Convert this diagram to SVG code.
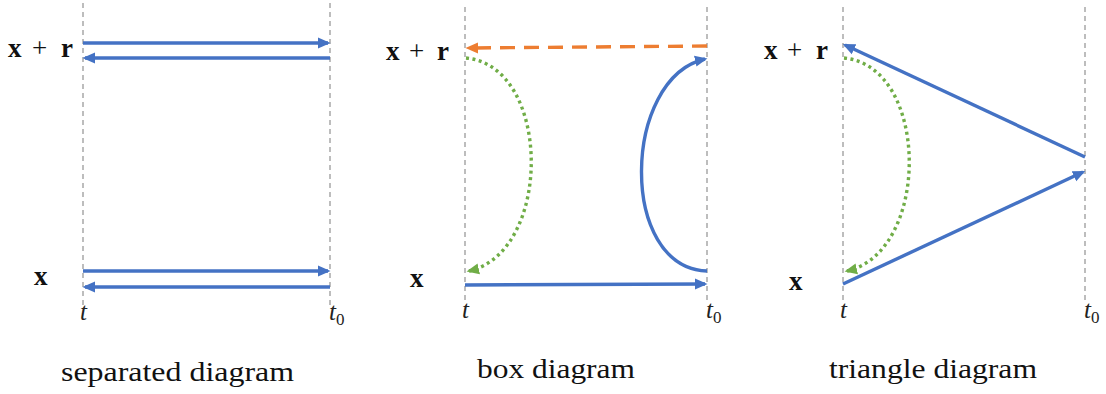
<svg xmlns="http://www.w3.org/2000/svg" width="1106" height="394" viewBox="0 0 1106 394">
<style>
.grid{stroke:#9a9a9a;stroke-width:1.3;stroke-dasharray:5,4;fill:none}
.blue{stroke:#4472C4;stroke-width:3.4;fill:none}
.orange{stroke:#ED7D31;stroke-width:3.4;fill:none;stroke-dasharray:15,9}
.green{stroke:#70AD47;stroke-width:3.4;fill:none;stroke-dasharray:3,3.5}
.lbl{font-family:"Times New Roman","Liberation Serif",Tinos,serif;font-size:27px;fill:#111}
.b{font-weight:bold}
.it{font-family:"Times New Roman","Liberation Serif",Tinos,serif;font-style:italic;font-size:25px;fill:#222}
.sub{font-family:"Times New Roman","Liberation Serif",Tinos,serif;font-size:17px;fill:#222}
.cap{font-family:"Times New Roman","Liberation Serif",Tinos,serif;font-size:27px;fill:#111}
</style>
<defs>
<marker id="ab" markerUnits="userSpaceOnUse" markerWidth="14" markerHeight="12" refX="10" refY="6" orient="auto">
<path d="M0,0.5 L12.5,6 L0,11.5 z" fill="#4472C4"/>
</marker>
<marker id="ao" markerUnits="userSpaceOnUse" markerWidth="14" markerHeight="12" refX="10" refY="6" orient="auto">
<path d="M0,0.5 L12.5,6 L0,11.5 z" fill="#ED7D31"/>
</marker>
<marker id="ag" markerUnits="userSpaceOnUse" markerWidth="14" markerHeight="12" refX="10" refY="6" orient="auto">
<path d="M0,0.5 L12.5,6 L0,11.5 z" fill="#70AD47"/>
</marker>
</defs>

<g id="axes">
<line class="grid" x1="83" y1="3" x2="83" y2="306"/>
<line class="grid" x1="330" y1="3" x2="330" y2="308"/>
<line class="grid" x1="465" y1="7" x2="465" y2="303"/>
<line class="grid" x1="707" y1="7" x2="707" y2="303"/>
<line class="grid" x1="843" y1="7" x2="843" y2="303"/>
<line class="grid" x1="1085" y1="7" x2="1085" y2="303"/>
</g>

<g id="labels">
<text class="lbl" y="57"><tspan class="b" x="8">x</tspan><tspan x="32">+</tspan><tspan class="b" x="61">r</tspan></text>
<text class="lbl b" x="34" y="285">x</text>
<text class="it" x="80" y="320">t</text>
<text class="it" x="329" y="320">t<tspan class="sub" dy="5" font-style="normal">0</tspan></text>
<text class="cap" x="61" y="381" textLength="233" lengthAdjust="spacingAndGlyphs">separated diagram</text>

<text class="lbl" y="60"><tspan class="b" x="386">x</tspan><tspan x="409">+</tspan><tspan class="b" x="437">r</tspan></text>
<text class="lbl b" x="410" y="287">x</text>
<text class="it" x="462" y="318">t</text>
<text class="it" x="706" y="318">t<tspan class="sub" dy="5" font-style="normal">0</tspan></text>
<text class="cap" x="477" y="378" textLength="158" lengthAdjust="spacingAndGlyphs">box diagram</text>

<text class="lbl" y="59"><tspan class="b" x="764">x</tspan><tspan x="787">+</tspan><tspan class="b" x="816">r</tspan></text>
<text class="lbl b" x="789" y="290">x</text>
<text class="it" x="840" y="318">t</text>
<text class="it" x="1084" y="318">t<tspan class="sub" dy="5" font-style="normal">0</tspan></text>
<text class="cap" x="829" y="378" textLength="208" lengthAdjust="spacingAndGlyphs">triangle diagram</text>
</g>

<g id="connectors">
<!-- separated -->
<line class="blue" x1="83" y1="43" x2="328" y2="43" marker-end="url(#ab)"/>
<line class="blue" x1="330" y1="58" x2="85" y2="58" marker-end="url(#ab)"/>
<line class="blue" x1="83" y1="271" x2="328" y2="271" marker-end="url(#ab)"/>
<line class="blue" x1="330" y1="287" x2="85" y2="287" marker-end="url(#ab)"/>
<!-- box -->
<line class="orange" x1="707" y1="46" x2="468" y2="48" marker-end="url(#ao)"/>
<path class="green" d="M466,58 C552,66 553,252 469,271" marker-end="url(#ag)"/>
<path class="blue" d="M707,271 C618,268 622,78 705,59" marker-end="url(#ab)"/>
<line class="blue" x1="465" y1="285" x2="705" y2="284" marker-end="url(#ab)"/>
<!-- triangle -->
<line class="blue" x1="1085" y1="157" x2="845" y2="45" marker-end="url(#ab)"/>
<line class="blue" x1="843" y1="284" x2="1083" y2="172" marker-end="url(#ab)"/>
<path class="green" d="M844,58 C930,66 931,252 847,271" marker-end="url(#ag)"/>
</g>
</svg>
